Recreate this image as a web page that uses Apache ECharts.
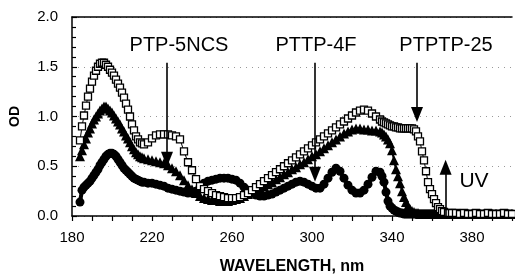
<!DOCTYPE html>
<html>
<head>
<meta charset="utf-8">
<script src="https://cdn.jsdelivr.net/npm/echarts@6/dist/echarts.min.js"></script>
<style>
  html, body { margin: 0; padding: 0; background: #fff; }
  #chart { width: 515px; height: 280px; }
</style>
</head>
<body>
<div id="chart"></div>
<script>
// wavelength grid (nm)
const wavelength = [
    184, 185, 186, 187, 188, 189, 190, 191, 192, 193, 194, 195, 196, 197, 198, 199, 200,
    201, 202, 203, 204, 205, 206, 207, 208, 209, 210, 211, 212, 213, 214, 215, 216,
    218, 220, 222, 224, 226, 228, 230, 232, 234,
    236, 238, 240, 242, 244, 246, 248, 250, 252, 254,
    256, 258, 260, 262, 264, 266, 268, 270, 272, 274,
    276, 278, 280, 282, 284, 286, 288, 290, 292, 294,
    296, 298, 300, 302, 304, 306, 308, 310, 312, 314,
    316, 318, 320, 322, 324, 326, 328, 330, 332, 334,
    335, 336, 337, 338, 339, 340, 341, 342, 343, 344,
    345, 346, 347, 348, 349, 350, 351, 352, 353, 354,
    355, 356, 357, 358, 359, 360, 361, 362, 363, 364, 365, 366,
    368, 370, 372, 374, 376, 378, 380, 382, 384, 386, 388, 390, 392, 394, 396, 398, 400
];

// open squares
const odSquares = [
    0.76, 0.90, 1.01, 1.11, 1.20, 1.28, 1.35, 1.41, 1.46, 1.50, 1.53, 1.54, 1.54, 1.52, 1.50, 1.47, 1.44,
    1.41, 1.37, 1.33, 1.29, 1.24, 1.19, 1.13, 1.07, 1.00, 0.92, 0.86, 0.80, 0.77, 0.74, 0.73, 0.72,
    0.74, 0.78, 0.81, 0.82, 0.82, 0.82, 0.81, 0.80, 0.77,
    0.65, 0.54, 0.46, 0.37, 0.30, 0.27, 0.25, 0.23, 0.21, 0.20,
    0.19, 0.18, 0.18, 0.18, 0.19, 0.21, 0.23, 0.26, 0.29, 0.32,
    0.35, 0.38, 0.41, 0.44, 0.47, 0.50, 0.53, 0.56, 0.59, 0.62,
    0.65, 0.68, 0.71, 0.74, 0.77, 0.80, 0.83, 0.86, 0.89, 0.92,
    0.95, 0.98, 1.01, 1.04, 1.06, 1.07, 1.06, 1.03, 1.00, 0.97,
    0.95, 0.94, 0.93, 0.92, 0.91, 0.90, 0.90, 0.89, 0.89, 0.88,
    0.88, 0.88, 0.88, 0.88, 0.88, 0.88, 0.87, 0.85, 0.80, 0.75,
    0.65, 0.56, 0.45, 0.34, 0.27, 0.22, 0.17, 0.13, 0.09, 0.07, 0.05, 0.04,
    0.03, 0.03, 0.03, 0.02, 0.03, 0.02, 0.02, 0.03, 0.02, 0.02, 0.03, 0.02, 0.02, 0.02, 0.03, 0.02, 0.02
];

// filled triangles
const odTriangles = [
    0.60, 0.66, 0.72, 0.78, 0.84, 0.88, 0.93, 0.97, 1.00, 1.03, 1.06, 1.08, 1.10, 1.10, 1.08, 1.06, 1.04,
    1.01, 0.98, 0.95, 0.92, 0.88, 0.85, 0.81, 0.78, 0.74, 0.70, 0.67, 0.64, 0.62, 0.60, 0.59, 0.58,
    0.57, 0.56, 0.55, 0.54, 0.53, 0.51, 0.48, 0.45, 0.41,
    0.36, 0.31, 0.27, 0.23, 0.20, 0.18, 0.17, 0.16, 0.16, 0.15,
    0.15, 0.15, 0.16, 0.17, 0.18, 0.20, 0.22, 0.24, 0.26, 0.28,
    0.30, 0.32, 0.34, 0.37, 0.39, 0.42, 0.44, 0.47, 0.49, 0.52,
    0.54, 0.57, 0.60, 0.62, 0.65, 0.68, 0.71, 0.74, 0.77, 0.80,
    0.83, 0.85, 0.87, 0.88, 0.88, 0.87, 0.87, 0.86, 0.86, 0.85,
    0.84, 0.82, 0.80, 0.77, 0.73, 0.66, 0.56, 0.47, 0.40, 0.33,
    0.25, 0.19, 0.14, 0.10, 0.07, 0.05, 0.04, 0.03, 0.03, 0.02,
    0.02, 0.02, 0.02, 0.02, 0.02, 0.02, 0.02, 0.02, 0.02, 0.02, 0.02, 0.02,
    0.02, 0.02, 0.02, 0.02, 0.02, 0.02, 0.02, 0.02, 0.02, 0.02, 0.02, 0.02, 0.02, 0.02, 0.02, 0.02, 0.02
];

// filled circles
const odCircles = [
    0.14, 0.26, 0.29, 0.31, 0.33, 0.35, 0.38, 0.41, 0.44, 0.47, 0.51, 0.54, 0.57, 0.60, 0.62, 0.63, 0.63,
    0.62, 0.60, 0.57, 0.54, 0.51, 0.48, 0.46, 0.44, 0.42, 0.40, 0.38, 0.37, 0.36, 0.35, 0.34, 0.34,
    0.33, 0.33, 0.32, 0.31, 0.30, 0.28, 0.27, 0.26, 0.25,
    0.24, 0.23, 0.23, 0.25, 0.29, 0.33, 0.35, 0.36, 0.37, 0.38,
    0.38, 0.38, 0.37, 0.36, 0.33, 0.29, 0.26, 0.23, 0.21, 0.20,
    0.20, 0.21, 0.22, 0.24, 0.26, 0.28, 0.30, 0.32, 0.34, 0.35,
    0.34, 0.32, 0.30, 0.28, 0.28, 0.32, 0.38, 0.44, 0.48, 0.45,
    0.38, 0.31, 0.26, 0.23, 0.23, 0.26, 0.32, 0.39, 0.45, 0.44,
    0.40, 0.34, 0.24, 0.15, 0.10, 0.08, 0.06, 0.05, 0.04, 0.03,
    0.03, 0.02, 0.02, 0.02, 0.02, 0.02, 0.02, 0.02, 0.02, 0.02,
    0.02, 0.02, 0.02, 0.02, 0.02, 0.02, 0.02, 0.02, 0.02, 0.02, 0.02, 0.02,
    0.02, 0.02, 0.02, 0.02, 0.02, 0.02, 0.02, 0.02, 0.02, 0.02, 0.02, 0.02, 0.02, 0.02, 0.02, 0.02, 0.02
];

// annotation arrows: [wavelength, from OD, to OD]
const arrowLabels = ['PTP-5NCS', 'PTTP-4F', 'PTPTP-25', 'UV'];
const arrowX = [227.5, 301.5, 352.5, 366.8];
const arrowFrom = [1.54, 1.54, 1.54, 0.0];
const arrowTo = [0.57, 0.42, 1.02, 0.49];

const pairs = arr => wavelength.map((w, i) => [w, arr[i]]);
const font = 'Liberation Sans, Arial, sans-serif';

const chart = echarts.init(document.getElementById('chart'), null, { renderer: 'canvas' });

chart.setOption({
    animation: false,
    textStyle: { fontFamily: font, color: '#000' },
    grid: { left: 71, right: 3, top: 17, bottom: 59 },
    xAxis: [{
        type: 'value',
        min: 180,
        max: 400,
        interval: 40,
        name: 'WAVELENGTH, nm',
        nameLocation: 'middle',
        nameGap: 43,
        nameTextStyle: { fontSize: 16, fontWeight: 'bold', color: '#000' },
        axisLine: { lineStyle: { color: '#000', width: 1.5 } },
        axisTick: { show: true, length: 5, lineStyle: { color: '#000', width: 1.2 } },
        minorTick: { show: true, splitNumber: 4, length: 5, lineStyle: { color: '#000', width: 1.2 } },
        axisLabel: { fontSize: 15, color: '#000', margin: 14, showMaxLabel: false },
        splitLine: { show: false }
    }, {
        type: 'value',
        position: 'top',
        min: 180,
        max: 400,
        axisLine: { show: true, lineStyle: { color: '#000', width: 1.5 } },
        axisTick: { show: false },
        axisLabel: { show: false },
        splitLine: { show: false }
    }],
    yAxis: {
        type: 'value',
        min: 0,
        max: 2,
        interval: 0.5,
        name: 'OD',
        nameLocation: 'middle',
        nameGap: 50,
        nameTextStyle: { fontSize: 14, fontWeight: 'bold', color: '#000' },
        axisLine: { show: true, lineStyle: { color: '#000', width: 1.5 } },
        axisTick: { show: true, inside: true, length: 5, lineStyle: { color: '#000', width: 1.2 } },
        minorTick: { show: true, splitNumber: 5, length: 4, lineStyle: { color: '#000', width: 1.2 } },
        axisLabel: { fontSize: 15, color: '#000', margin: 14, formatter: v => v.toFixed(1) },
        splitLine: { show: true, lineStyle: { color: '#999', width: 1, type: [1, 5] } }
    },
    series: [{
        name: 'circles',
        type: 'line',
        data: pairs(odCircles),
        symbol: 'circle',
        symbolSize: 9,
        showAllSymbol: true,
        itemStyle: { color: '#000' },
        lineStyle: { color: '#000', width: 4 },
        z: 2
    }, {
        name: 'triangles',
        type: 'line',
        data: pairs(odTriangles),
        symbol: 'triangle',
        symbolSize: 10,
        showAllSymbol: true,
        itemStyle: { color: '#000' },
        lineStyle: { color: '#000', width: 2 },
        z: 3
    }, {
        name: 'squares',
        type: 'line',
        data: pairs(odSquares),
        symbol: 'rect',
        symbolSize: 7,
        showAllSymbol: true,
        itemStyle: { color: '#fff', borderColor: '#000', borderWidth: 1.3 },
        lineStyle: { color: '#000', width: 1 },
        z: 4,
        markLine: {
            silent: true,
            symbol: ['none', 'triangle'],
            symbolSize: [12, 15],
            label: { show: false },
            lineStyle: { color: '#000', width: 1.6, type: 'solid' },
            itemStyle: { color: '#000' },
            data: arrowX.map((x, i) => [
                { coord: [x, arrowFrom[i]] },
                { coord: [x, arrowTo[i]] }
            ])
        }
    }],
    graphic: [
        { type: 'text', x: 179, y: 45, style: { text: arrowLabels[0], font: '20px ' + font, align: 'center', verticalAlign: 'middle', fill: '#000' } },
        { type: 'text', x: 316, y: 45, style: { text: arrowLabels[1], font: '20px ' + font, align: 'center', verticalAlign: 'middle', fill: '#000' } },
        { type: 'text', x: 446, y: 45, style: { text: arrowLabels[2], font: '20px ' + font, align: 'center', verticalAlign: 'middle', fill: '#000' } },
        { type: 'text', x: 474, y: 181, style: { text: arrowLabels[3], font: '21px ' + font, align: 'center', verticalAlign: 'middle', fill: '#000' } }
    ]
});
</script>
</body>
</html>
